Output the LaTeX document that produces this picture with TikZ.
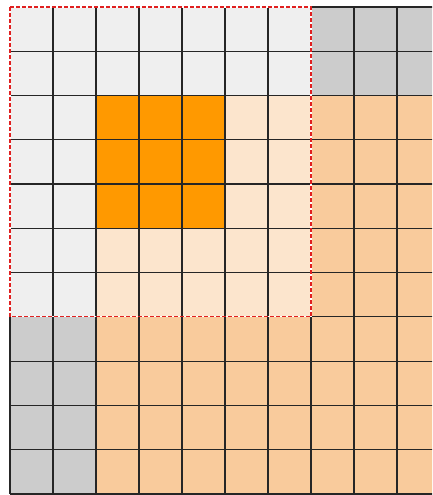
\documentclass[tikz,border=0pt]{standalone}
\usepackage{tikz}
\definecolor{padgray}{HTML}{EFEFEF}
\definecolor{cutgray}{HTML}{CCCCCC}
\definecolor{kernorange}{HTML}{FF9900}
\definecolor{outpeach}{HTML}{FCE5CD}
\definecolor{inpeach}{HTML}{F9CB9C}
\definecolor{dashred}{HTML}{E02020}

\begin{document}
\begin{tikzpicture}[
  x=43pt, y=-44.27pt,
  gridline/.style={black!85, line width=1.2pt},
  window/.style={dashred, line width=1.2pt, dash pattern=on 4pt off 2pt},
  windowbase/.style={white, line width=1.2pt}
]
\useasboundingbox (-0.2326,-0.158) rectangle (9.814,11.023);
\clip (-0.2326,-0.158) rectangle (9.814,11.023);

% padded input
\fill[padgray] (0,0) rectangle (7,7);
\fill[cutgray] (7,0) rectangle (10,2);
\fill[cutgray] (0,7) rectangle (2,11);
\fill[inpeach] (7,2) rectangle (10,11);
\fill[inpeach] (2,7) rectangle (7,11);
\fill[outpeach] (2,2) rectangle (7,7);
% kernel window
\fill[kernorange] (2,2) rectangle (5,5);

% grid
\foreach \i in {0,...,10}
  \draw[gridline] (\i,0) -- (\i,11);
\foreach \j in {0,...,11}
  \draw[gridline] (0,\j) -- (10,\j);

% dashed frame
\draw[windowbase] (0,0) rectangle (7,7);
\draw[window] (0,0) rectangle (7,7);
\end{tikzpicture}
\end{document}
